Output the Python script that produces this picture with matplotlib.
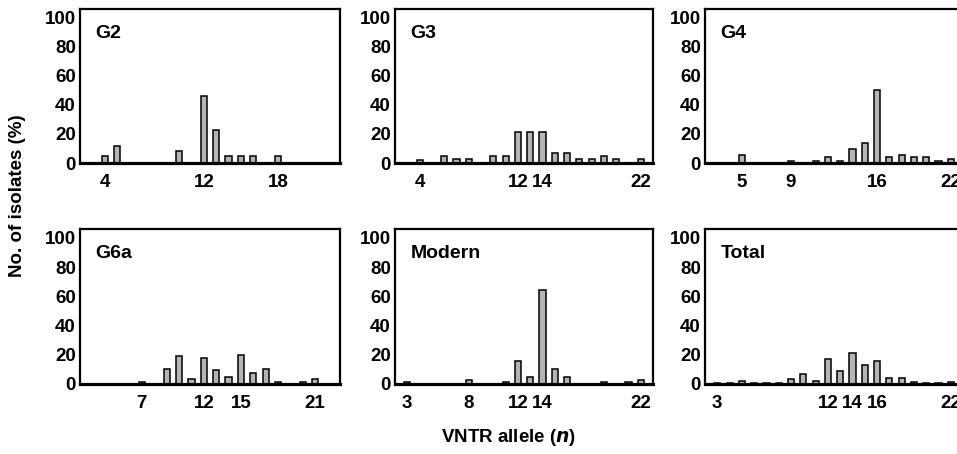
import matplotlib.pyplot as plt

plt.rcParams['font.family'] = ['Liberation Sans', 'DejaVu Sans']
plt.rcParams['font.weight'] = 'bold'

# allele (n) and % of isolates
g2_alleles = [4, 5, 10, 12, 13, 14, 15, 16, 18]
g2_pct = [4.5, 12, 8, 46, 23, 4.5, 4.5, 4.5, 4.5]

g3_alleles = [4, 6, 7, 8, 10, 11, 12, 13, 14, 15, 16, 17, 18, 19, 20, 22]
g3_pct = [2, 5, 2.5, 2.5, 5, 5, 21, 21, 21, 7, 7, 2.5, 2.5, 5, 2.5, 2.5]

g4_alleles = [5, 9, 11, 12, 13, 14, 15, 16, 17, 18, 19, 20, 21, 22]
g4_pct = [5.5, 1.5, 1.5, 4, 1.5, 9.5, 14, 50.5, 4, 5.5, 4, 4, 1.5, 2.8]

g6a_alleles = [7, 9, 10, 11, 12, 13, 14, 15, 16, 17, 18, 20, 21]
g6a_pct = [1.5, 10.5, 19, 3.7, 17.8, 9.4, 4.8, 20, 7.8, 10.3, 1.5, 1.5, 3.4]

modern_alleles = [3, 8, 11, 12, 13, 14, 15, 16, 19, 21, 22]
modern_pct = [1.3, 2.8, 1.3, 15.5, 4.6, 64, 10, 4.6, 1.3, 1.3, 2.8]

total_alleles = [3, 4, 5, 6, 7, 8, 9, 10, 11, 12, 13, 14, 15, 16, 17, 18, 19, 20, 21, 22]
total_pct = [1, 1, 2.3, 1, 1, 1, 3.3, 7, 2.3, 17.4, 8.8, 21, 12.8, 15.6, 4, 4.2, 1.5, 1, 1, 1.3]

panels = [
    ('G2', g2_alleles, g2_pct, [4, 12, 18]),
    ('G3', g3_alleles, g3_pct, [4, 12, 14, 22]),
    ('G4', g4_alleles, g4_pct, [5, 9, 16, 22]),
    ('G6a', g6a_alleles, g6a_pct, [7, 12, 15, 21]),
    ('Modern', modern_alleles, modern_pct, [3, 8, 12, 14, 22]),
    ('Total', total_alleles, total_pct, [3, 12, 14, 16, 22]),
]

W, H = 957, 454
fig = plt.figure(figsize=(W / 100, H / 100), dpi=100)

# axes boxes in pixels: (left, right) per column, (top, bottom) per row
cols = [(80, 340), (395, 653), (705, 963)]
rows = [(9, 163), (229, 384)]

for i, (name, x, y, ticks) in enumerate(panels):
    (l, r), (t, b) = cols[i % 3], rows[i // 3]
    ax = fig.add_axes([l / W, 1 - b / H, (r - l) / W, (b - t) / H])
    ax.bar(x, y, width=0.5, color='#b5b5b5', edgecolor='black', linewidth=1.1)
    ax.set_xlim(2, 23)
    ax.set_ylim(0, 106)
    ax.set_yticks(range(0, 101, 20))
    ax.set_xticks(ticks)
    ax.tick_params(length=0, labelsize=13.5)
    ax.tick_params(axis='x', pad=8)
    ax.tick_params(axis='y', pad=3)
    for s in ax.spines.values():
        s.set_linewidth(1.6)
    ax.spines['bottom'].set_linewidth(2.3)
    ax.text(0.06, 0.84, name, transform=ax.transAxes, fontsize=14,
            fontweight='bold', va='center', ha='left')

fig.text(18 / W, 1 - 196 / H, 'No. of isolates (%)', rotation=90,
         fontsize=13.5, fontweight='bold', ha='center', va='center')
fig.text(509 / W, 1 - 438 / H, 'VNTR allele ($\\mathbf{\\it{n}}$)',
         fontsize=13.5, fontweight='bold', ha='center', va='center')

fig.savefig('out.png', dpi=100)
